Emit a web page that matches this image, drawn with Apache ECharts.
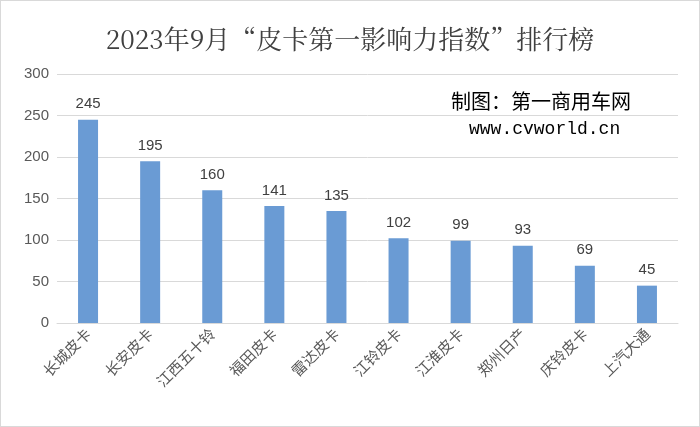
<!DOCTYPE html><html><head><meta charset="utf-8"><script src="https://cdn.jsdelivr.net/npm/echarts@6/dist/echarts.min.js"></script></head><body style="margin:0"><div id="c" style="width:700px;height:427px;box-sizing:border-box;border:1px solid #d9d9d9"></div><script>
const categories=["长城皮卡","长安皮卡","江西五十铃","福田皮卡","雷达皮卡","江铃皮卡","江淮皮卡","郑州日产","庆铃皮卡","上汽大通"];
const values=[245,195,160,141,135,102,99,93,69,45];
const yTicks=[0,50,100,150,200,250,300];
const ch=echarts.init(document.getElementById('c'));
ch.setOption({
title:{text:"2023年9月“皮卡第一影响力指数”排行榜",left:'center',top:20,textStyle:{fontFamily:"Noto Serif CJK SC, Noto Sans CJK SC",fontWeight:'normal',fontSize:26,color:'#404040'}},
graphic:[{type:'text',left:450,top:90,style:{text:'制图：第一商用车网',font:'20px "Noto Sans CJK SC"',fill:'#000'}},
{type:'text',left:468,top:119,style:{text:'www.cvworld.cn',font:'18px "Liberation Mono"',fill:'#000'}}],
grid:{left:56,right:21,top:73,bottom:103},
xAxis:{type:'category',data:categories,axisTick:{show:false},axisLine:{lineStyle:{color:'#d9d9d9'}},axisLabel:{rotate:45,color:'#595959',fontSize:15,fontFamily:'Noto Sans CJK SC',interval:0}},
yAxis:{type:'value',min:0,max:300,interval:50,axisLabel:{color:'#595959',fontSize:15,formatter:v=>yTicks.includes(v)?v:''},splitLine:{lineStyle:{color:'#d9d9d9'}}},
series:[{type:'bar',data:values,barWidth:20,itemStyle:{color:'#6a9bd4'},label:{show:true,position:'top',color:'#404040',fontSize:15,distance:8}}]
});
</script></body></html>
